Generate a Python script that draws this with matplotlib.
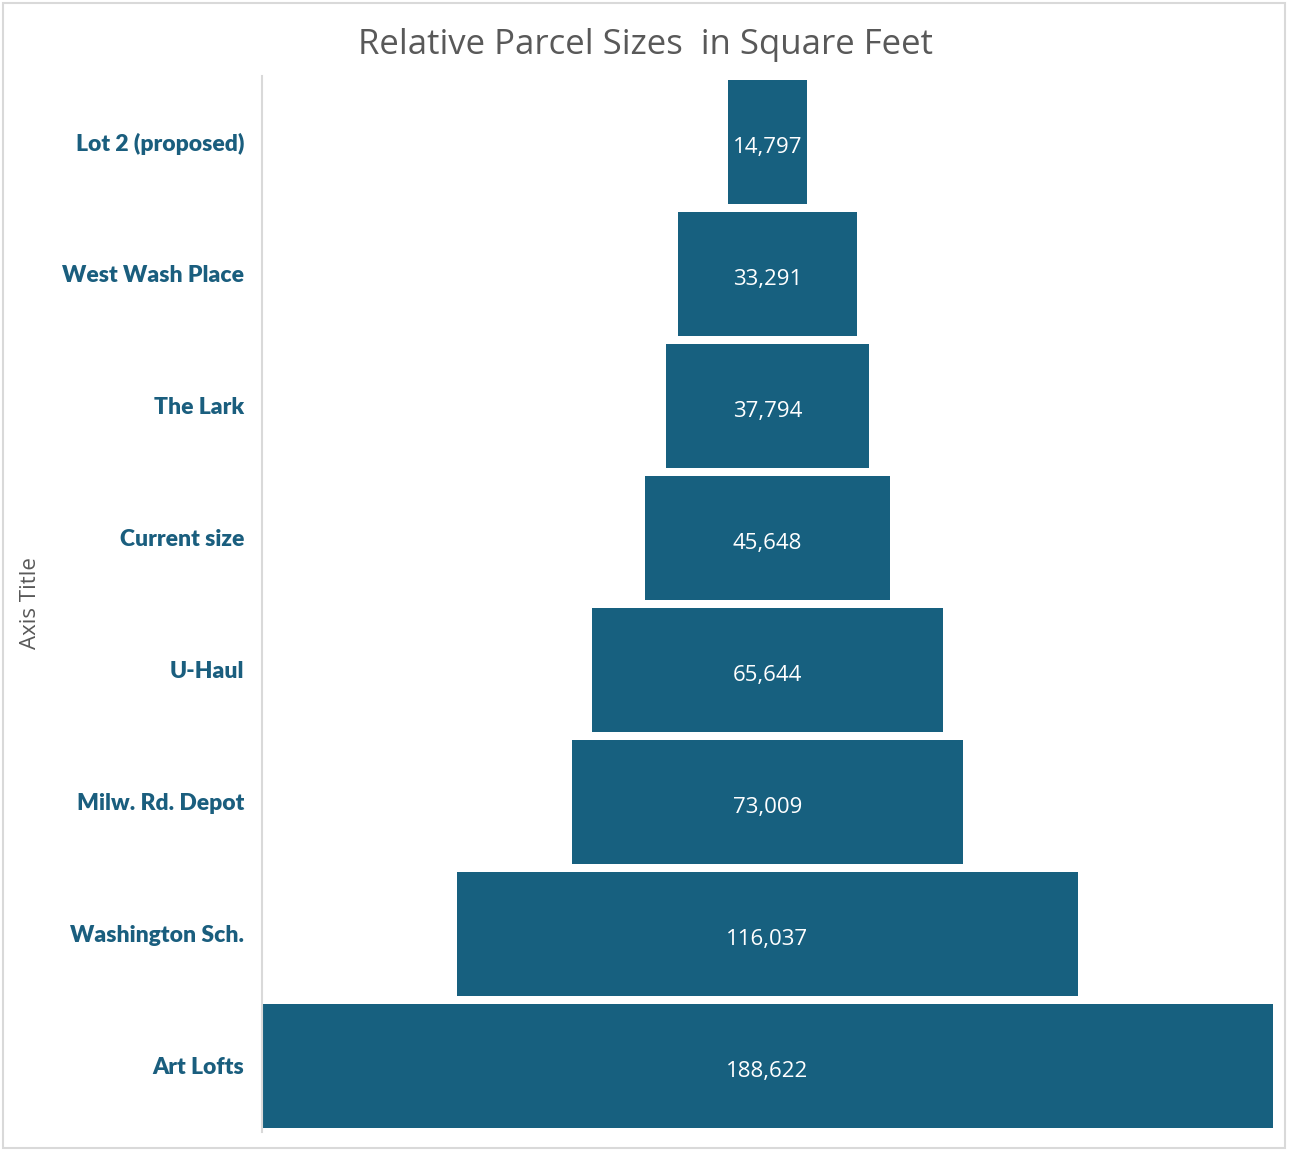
import matplotlib
matplotlib.use("Agg")
import matplotlib.pyplot as plt
from matplotlib.patches import Rectangle
from matplotlib.transforms import offset_copy

categories = ["Lot 2 (proposed)", "West Wash Place", "The Lark", "Current size",
              "U-Haul", "Milw. Rd. Depot", "Washington Sch.", "Art Lofts"]
values = [14797, 33291, 37794, 45648, 65644, 73009, 116037, 188622]
value_labels = ["14,797", "33,291", "37,794", "45,648", "65,644", "73,009", "116,037", "188,622"]

W, H = 1289, 1151
fig = plt.figure(figsize=(W / 100, H / 100), dpi=100)
fig.patch.set_facecolor("white")

# chart border
fig.add_artist(Rectangle((3 / W, 3 / H), (1285 - 3) / W, (1148 - 3) / H,
                         transform=fig.transFigure, fill=False,
                         edgecolor="#d9d9d9", linewidth=1.5))

ax_l, ax_r, ax_t, ax_b = 262, 1273, 76, 1132
ax = fig.add_axes([ax_l / W, 1 - ax_b / H, (ax_r - ax_l) / W, (ax_b - ax_t) / H])

bar_color = "#17607F"
n = len(categories)
ypos = [n - 1 - i for i in range(n)]
lefts = [-v / 2 for v in values]
ax.barh(ypos, values, left=lefts, height=0.94, color=bar_color)

lab_tr = offset_copy(ax.transData, fig=fig, x=0, y=-3, units="dots")
for y, lab in zip(ypos, value_labels):
    ax.text(0, y, lab, ha="center", va="center_baseline", color="white",
            fontsize=16, family="Open Sans", transform=lab_tr)

vmax = max(values)
ax.set_xlim(-vmax / 2, vmax / 2)
ax.set_ylim(-0.5, n - 0.5)
ax.set_yticks(ypos)
ax.set_yticklabels(categories, fontsize=16.5, fontweight="heavy",
                   color="#1A5E7E", family="Lato")
ax.tick_params(axis="y", length=0, pad=13)
ax.set_xticks([])
for s in ["top", "right", "bottom"]:
    ax.spines[s].set_visible(False)
ax.spines["left"].set_color("#d9d9d9")
ax.spines["left"].set_linewidth(1.5)

fig.text(31 / W, 1 - 603 / H, "Axis Title", rotation=90, ha="center", va="center",
         fontsize=16, color="#595959", family="Open Sans")
fig.text(645 / W, 1 - 45 / H, "Relative Parcel Sizes  in Square Feet", ha="center",
         va="center", fontsize=25, color="#595959", family="Open Sans")

fig.savefig("out.png", dpi=100)
